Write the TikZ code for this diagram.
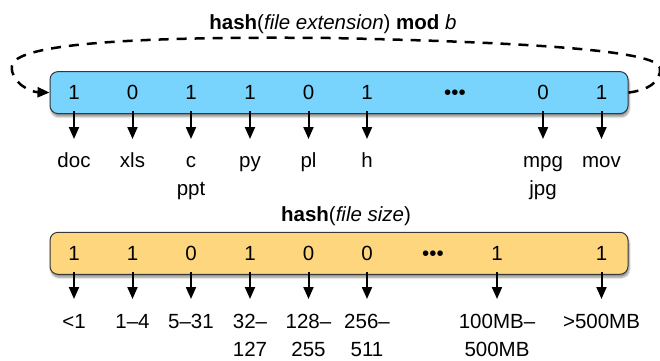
\documentclass[tikz,border=0pt]{standalone}
\usepackage{fontspec}
\setmainfont{Liberation Sans}
\usetikzlibrary{arrows.meta,shadows.blur}
\definecolor{bluefill}{RGB}{120,211,253}
\definecolor{yellowfill}{RGB}{254,214,126}
\definecolor{edgegray}{RGB}{55,55,55}
\newcommand{\twoline}[2]{\begin{tabular}[t]{@{}c@{}}#1\\#2\end{tabular}}
\begin{document}
\begin{tikzpicture}[x=1pt,y=-1pt,
  every node/.style={font=\fontsize{20.5}{28}\selectfont, inner sep=0pt},
  bitbox/.style={draw=edgegray, line width=1pt, rounded corners=8pt,
    minimum width=578pt, minimum height=42pt,
    blur shadow={shadow xshift=1pt, shadow yshift=-3pt, shadow blur steps=6, shadow opacity=45}},
  bit/.style={anchor=base},
  lbl/.style={anchor=base},
  ptr/.style={line width=2pt, -{Triangle[width=10pt,length=12pt]}, shorten <=-3pt, shorten >=6pt},
  loopline/.style={line width=2.5pt, dash pattern=on 10pt off 8pt, -{Triangle[width=10pt,length=12pt]}},
  ttl/.style={anchor=base}]
\useasboundingbox (0,0) rectangle (660,360);

% titles
\node[ttl] (t1) at (333,29) {\textbf{hash}(\textit{file extension}) \textbf{mod} \textit{b}};
\node[ttl] (t2) at (346,221) {\textbf{hash}(\textit{file size})};

% boxes
\node[bitbox, fill=bluefill] (tb) at (339,92.6) {};
\node[bitbox, fill=yellowfill] (bb) at (339,253.3) {};

% top bits
\node[bit] (a1) at (74,99) {1};
\node[bit] (a2) at (132.5,99) {0};
\node[bit] (a3) at (191,99) {1};
\node[bit] (a4) at (250,99) {1};
\node[bit] (a5) at (308.5,99) {0};
\node[bit] (a6) at (367,99) {1};
\node[bit] (ad) at (455,99) {•••};
\node[bit] (a8) at (543,99) {0};
\node[bit] (a9) at (601.5,99) {1};

% top labels
\node[lbl] (la1) at (74,167) {doc};
\node[lbl] (la2) at (132.5,167) {xls};
\node[lbl] (la3) at (191,167) {\twoline{c}{ppt}};
\node[lbl] (la4) at (250,167) {py};
\node[lbl] (la5) at (308.5,167) {pl};
\node[lbl] (la6) at (367,167) {h};
\node[lbl] (la8) at (543,167) {\twoline{mpg}{jpg}};
\node[lbl] (la9) at (601.5,167) {mov};

\coordinate (tipA) at (0,139);
\foreach \b in {a1,a2,a3,a4,a5,a6,a8,a9}
  \draw[ptr, shorten >=0pt] (\b |- tb.south) -- (\b |- tipA);

% bottom bits
\node[bit] (b1) at (74,260) {1};
\node[bit] (b2) at (132.5,260) {1};
\node[bit] (b3) at (191,260) {0};
\node[bit] (b4) at (250,260) {1};
\node[bit] (b5) at (308.5,260) {0};
\node[bit] (b6) at (367,260) {0};
\node[bit] (bd) at (433,260) {•••};
\node[bit] (b8) at (497,260) {1};
\node[bit] (b9) at (601.5,260) {1};

% bottom labels
\node[lbl] (lb1) at (74,328) {<1};
\node[lbl] (lb2) at (132.5,328) {1–4};
\node[lbl] (lb3) at (191,328) {5–31};
\node[lbl] (lb4) at (250,328) {\twoline{32–}{127}};
\node[lbl] (lb5) at (308.5,328) {\twoline{128–}{255}};
\node[lbl] (lb6) at (367,328) {\twoline{256–}{511}};
\node[lbl] (lb8) at (497,328) {\twoline{100MB–}{500MB}};
\node[lbl] (lb9) at (601.5,328) {>500MB};

\coordinate (tipB) at (0,299);
\foreach \b in {b1,b2,b3,b4,b5,b6,b8,b9}
  \draw[ptr, shorten >=0pt] (\b |- bb.south) -- (\b |- tipB);

% dashed wrap-around loop
\draw[loopline] (tb.east) .. controls (648,90) and (661,82) .. (660,68)
  .. controls (658,50) and (520,42) .. (330,38)
  .. controls (120,36) and (14,45) .. (12,66)
  .. controls (10,82) and (30,92) .. (tb.west);
\end{tikzpicture}
\end{document}
